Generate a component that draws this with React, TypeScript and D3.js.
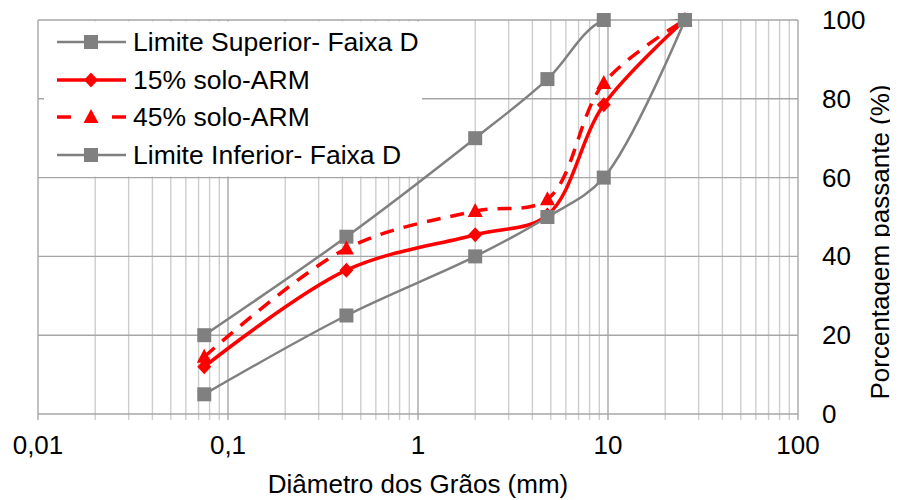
import { useEffect, useRef } from "react";
import * as d3 from "d3";

// sieve openings (mm) and percent passing
const sieves = [0.075, 0.42, 2.0, 4.8, 9.5, 25.4];
const limSup = [20, 45, 70, 85, 100, 100];
const solo15 = [12, 36.5, 45.5, 50.5, 78.5, 100];
const solo45 = [14.5, 42, 51.5, 54.5, 84, 100];
const limInf = [5, 25, 40, 50, 60, 100];

const xTicks = [0.01, 0.1, 1, 10, 100];
const xTickLabels = ["0,01", "0,1", "1", "10", "100"];
const yTicks = [0, 20, 40, 60, 80, 100];

const seriesNames = [
  "Limite Superior- Faixa D",
  "15% solo-ARM",
  "45% solo-ARM",
  "Limite Inferior- Faixa D",
];

const FONT = "'Liberation Sans', Arial, sans-serif";

export default function App() {
  const ref = useRef<SVGSVGElement | null>(null);

  useEffect(() => {
    if (!ref.current) return;
    const w = 898,
      h = 500,
      margin = { top: 20, right: 100, bottom: 86, left: 38 };

    const svg = d3.select(ref.current);
    svg.selectAll("*").remove();
    svg.attr("width", w).attr("height", h).style("display", "block");

    const x = d3.scaleLog().domain([0.01, 100]).range([margin.left, w - margin.right]);
    const y = d3.scaleLinear().domain([0, 100]).range([h - margin.bottom, margin.top]);

    const y0 = y(0),
      y1 = y(100);

    // vertical grid (minor then major)
    const minor: number[] = [];
    for (let k = -2; k < 2; k++) for (let m = 2; m <= 9; m++) minor.push(m * Math.pow(10, k));
    svg
      .append("g")
      .selectAll("line")
      .data(minor)
      .join("line")
      .attr("x1", (d) => x(d))
      .attr("x2", (d) => x(d))
      .attr("y1", y1)
      .attr("y2", y0 + 6)
      .attr("stroke", "#cdcdcd")
      .attr("stroke-width", 1.4);

    svg
      .append("g")
      .selectAll("line")
      .data(xTicks)
      .join("line")
      .attr("x1", (d) => x(d))
      .attr("x2", (d) => x(d))
      .attr("y1", y1)
      .attr("y2", y0 + 6)
      .attr("stroke", "#a6a6a6")
      .attr("stroke-width", 1.4);

    svg
      .append("g")
      .selectAll("line")
      .data(yTicks)
      .join("line")
      .attr("x1", margin.left)
      .attr("x2", w - margin.right)
      .attr("y1", (d) => y(d))
      .attr("y2", (d) => y(d))
      .attr("stroke", "#a6a6a6")
      .attr("stroke-width", 1.4);

    // legend background
    svg.append("rect").attr("x", 44).attr("y", 21.5).attr("width", 378).attr("height", 155).attr("fill", "#fff");

    // x labels
    svg
      .append("g")
      .selectAll("text")
      .data(xTicks)
      .join("text")
      .attr("x", (d) => x(d))
      .attr("y", 454)
      .attr("text-anchor", "middle")
      .attr("font-family", FONT)
      .attr("font-size", 26)
      .text((_, i) => xTickLabels[i]);

    // y labels (right)
    svg
      .append("g")
      .selectAll("text")
      .data(yTicks)
      .join("text")
      .attr("x", 822)
      .attr("y", (d) => y(d) + 9)
      .attr("font-family", FONT)
      .attr("font-size", 26)
      .text((d) => d);

    svg
      .append("text")
      .attr("x", 418)
      .attr("y", 493)
      .attr("text-anchor", "middle")
      .attr("font-family", FONT)
      .attr("font-size", 26)
      .text("Diâmetro dos Grãos (mm)");

    svg
      .append("text")
      .attr("transform", "translate(889,242) rotate(-90)")
      .attr("text-anchor", "middle")
      .attr("font-family", FONT)
      .attr("font-size", 26)
      .text("Porcentagem passante (%)");

    // clip for smoothed lines
    svg
      .append("clipPath")
      .attr("id", "plotclip")
      .append("rect")
      .attr("x", margin.left)
      .attr("y", y1 - 1)
      .attr("width", w - margin.right - margin.left)
      .attr("height", y0 - y1 + 2);

    const line = d3
      .line<number>()
      .x((_, i) => x(sieves[i]))
      .y((d) => y(d))
      .curve(d3.curveCatmullRom.alpha(0.5));

    const gray = "#808080",
      red = "#ff0000";

    const drawMarker = (g: any, type: string, cx: number, cy: number, color: string) => {
      if (type === "square") {
        g.append("rect").attr("x", cx - 7).attr("y", cy - 7).attr("width", 14).attr("height", 14).attr("fill", color);
      } else if (type === "diamond") {
        g.append("path")
          .attr("d", `M${cx},${cy - 7.5}L${cx + 7},${cy}L${cx},${cy + 7.5}L${cx - 7},${cy}Z`)
          .attr("fill", color);
      } else {
        g.append("path")
          .attr("d", `M${cx},${cy - 8}L${cx + 7.5},${cy + 6}L${cx - 7.5},${cy + 6}Z`)
          .attr("fill", color);
      }
    };

    const series = [
      { values: limSup, color: gray, width: 2.5, dash: null, marker: "square" },
      { values: solo15, color: red, width: 3.5, dash: null, marker: "diamond" },
      { values: solo45, color: red, width: 3.5, dash: "14,10", marker: "triangle" },
      { values: limInf, color: gray, width: 2.5, dash: null, marker: "square" },
    ];

    series.forEach((s) => {
      const g = svg.append("g");
      g.append("path")
        .attr("d", line(s.values))
        .attr("fill", "none")
        .attr("stroke", s.color)
        .attr("stroke-width", s.width)
        .attr("stroke-dasharray", s.dash)
        .attr("clip-path", "url(#plotclip)");
      s.values.forEach((v, i) => drawMarker(g, s.marker, x(sieves[i]), y(v), s.color));
    });

    // legend
    const rowsY = [42, 80, 117, 155];
    series.forEach((s, i) => {
      const g = svg.append("g");
      const ly = rowsY[i];
      if (s.dash) {
        g.append("line").attr("x1", 57).attr("x2", 71).attr("y1", ly).attr("y2", ly).attr("stroke", s.color).attr("stroke-width", s.width);
        g.append("line").attr("x1", 112).attr("x2", 126).attr("y1", ly).attr("y2", ly).attr("stroke", s.color).attr("stroke-width", s.width);
      } else {
        g.append("line").attr("x1", 57).attr("x2", 126).attr("y1", ly).attr("y2", ly).attr("stroke", s.color).attr("stroke-width", s.width);
      }
      drawMarker(g, s.marker, 91, ly, s.color);
      g.append("text")
        .attr("x", 133)
        .attr("y", ly + 9)
        .attr("font-family", FONT)
        .attr("font-size", 26.5)
        .text(seriesNames[i]);
    });
  }, []);

  return (
    <div style={{ margin: "-8px -8px 0 -8px" }}>
      <svg ref={ref} />
    </div>
  );
}
